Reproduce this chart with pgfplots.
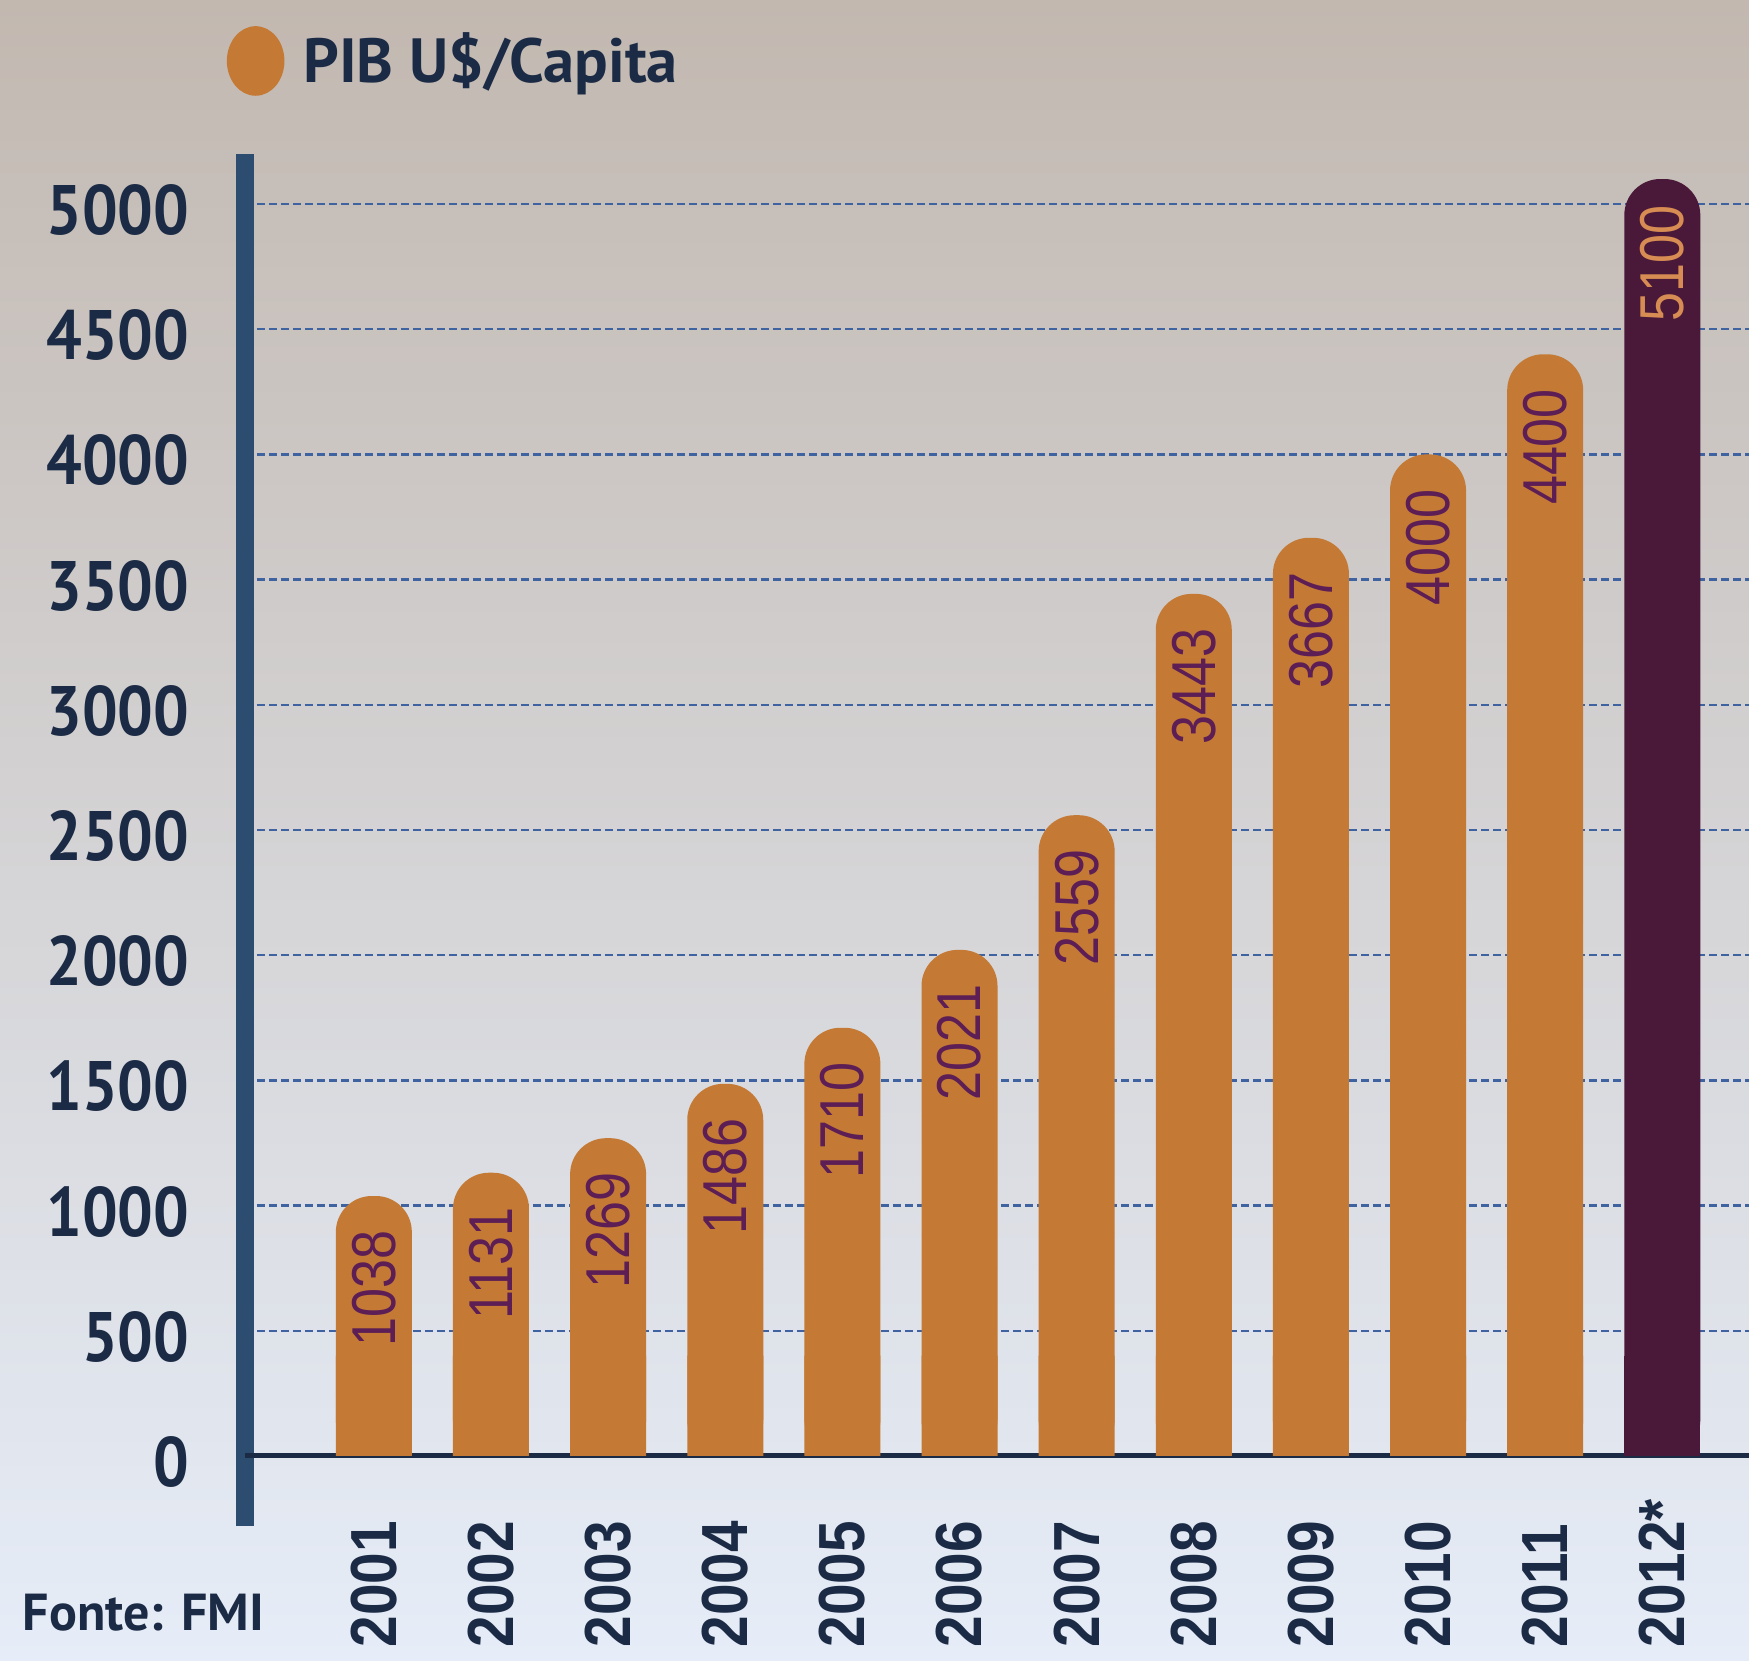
\documentclass[border=0pt]{standalone}
\usepackage{fontspec}
\usepackage{pgfplots}
\pgfplotsset{compat=1.18}
\newfontfamily\ptsans{PT Sans}
\newfontfamily\ticksfont[FakeStretch=0.9]{PT Sans}
\newfontfamily\yearfont[FakeStretch=0.87]{Liberation Sans}
\newfontfamily\valfont[FakeStretch=0.84]{Liberation Sans}
\definecolor{barorange}{RGB}{196,122,53}
\definecolor{barpurple}{RGB}{74,24,56}
\definecolor{valpurple}{RGB}{92,30,84}
\definecolor{valorange}{RGB}{214,140,82}
\definecolor{navy}{RGB}{28,43,69}
\definecolor{yaxiscol}{RGB}{44,77,112}
\definecolor{gridcol}{RGB}{63,99,160}
\definecolor{bgtop}{RGB}{194,184,176}
\definecolor{bgmid}{RGB}{218,214,211}
\definecolor{bgbot}{RGB}{230,237,248}
\begin{document}
\begin{tikzpicture}
\useasboundingbox (0,0) rectangle (437.25pt,415.25pt);
\shade[top color=bgtop, middle color=bgmid, bottom color=bgbot] (0,0) rectangle (437.25pt,415.25pt);
\begin{axis}[
  at={(61.25pt,33.75pt)}, anchor=south west,
  scale only axis, width=376pt, height=343pt,
  xmin=-1.10, xmax=11.74, ymin=-280, ymax=5200,
  axis x line*=bottom, axis y line*=left,
  x axis line style={draw=none},
  y axis line style={-, line width=4.5pt, draw=yaxiscol},
  ytick={500,1000,...,5000}, extra y ticks={0},
  major tick length=0pt,
  ymajorgrids,
  grid style={dash pattern=on 2pt off 1pt, line width=0.6pt, draw=gridcol},
  extra y tick style={grid style={solid, line width=1.2pt, draw=navy}},
  scaled y ticks=false,
  /pgf/number format/1000 sep={},
  /pgf/number format/assume math mode=true,
  yticklabel style={font=\ticksfont\bfseries\fontsize{17.5}{17.5}\selectfont, text=navy, anchor=east, inner sep=0pt, xshift=-13.75pt, yshift=-1.5pt},
  xtick={0,1,2,3,4,5,6,7,8,9,10,11},
  xticklabels={2001,2002,2003,2004,2005,2006,2007,2008,2009,2010,2011,2012*},
  xticklabel style={font=\yearfont\bfseries\fontsize{16.3}{16.3}\selectfont, text=navy, yshift=-30.5pt, rotate=90, anchor=west, inner sep=0pt},
  legend style={at={(-0.0126,1.0678)}, anchor=west, draw=none, fill=none, inner sep=0pt,
    font=\ptsans\bfseries\fontsize{15.6}{15.6}\selectfont, text=navy, nodes={inner sep=0pt},
    /tikz/every odd column/.append style={column sep=4.75pt}},
]
\addplot[ybar, bar width=19pt, bar shift=0pt, fill=barorange, draw=none, y filter/.expression={min(y,400)}, forget plot]
  coordinates {(0,1038) (1,1131) (2,1269) (3,1486) (4,1710) (5,2021) (6,2559) (7,3443) (8,3667) (9,4000) (10,4400)};
\addplot[ybar, bar width=19pt, bar shift=0pt, fill=barpurple, draw=none, y filter/.expression={min(y,400)}, forget plot]
  coordinates {(11,5100)};
\addplot[ybar, bar width=19pt, bar shift=0pt, fill=barorange, draw=none, rounded corners=9pt, forget plot,
  nodes near coords, nodes near coords align={anchor=east},
  every node near coord/.append style={yshift=-8.5pt, rotate=90, anchor=east, inner sep=0pt, sharp corners,
    font=\valfont\fontsize{15.5}{15.5}\selectfont, text=valpurple}]
  coordinates {(0,1038) (1,1131) (2,1269) (3,1486) (4,1710) (5,2021) (6,2559) (7,3443) (8,3667) (9,4000) (10,4400)};
\addplot[ybar, bar width=19pt, bar shift=0pt, fill=barpurple, draw=none, rounded corners=9pt, forget plot,
  nodes near coords, nodes near coords align={anchor=east},
  every node near coord/.append style={yshift=-6.5pt, rotate=90, anchor=east, inner sep=0pt, sharp corners,
    font=\valfont\fontsize{15.5}{15.5}\selectfont, text=valorange}]
  coordinates {(11,5100)};
\addlegendimage{legend image code/.code={\fill[barorange] (7pt,0pt) ellipse [x radius=7pt, y radius=8.5pt];}}
\addlegendentry{PIB U\$/Capita}
\end{axis}
\node[anchor=west, inner sep=0pt, font=\ptsans\bfseries\fontsize{13}{13}\selectfont, text=navy] at (5.5pt,12pt) {Fonte: FMI};
\end{tikzpicture}
\end{document}
